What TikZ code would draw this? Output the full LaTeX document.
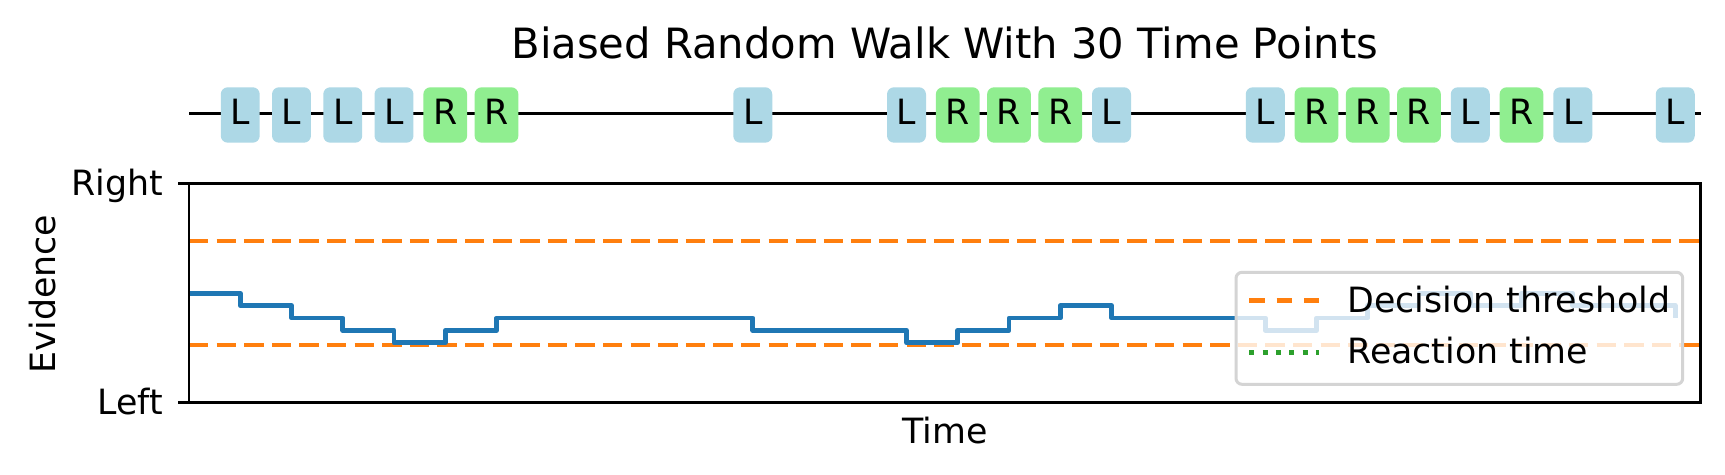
\documentclass[tikz,border=0pt]{standalone}
\usepackage{fontspec}
\setmainfont{DejaVu Sans}
\definecolor{walkblue}{RGB}{31,119,180}
\definecolor{threshorange}{RGB}{255,127,14}
\definecolor{rtgreen}{RGB}{44,160,44}
\definecolor{leftblue}{RGB}{173,216,230}
\definecolor{rightgreen}{RGB}{144,238,144}
\definecolor{legedge}{RGB}{212,212,212}
\begin{document}
\begin{tikzpicture}[x=0.5pt,y=-0.5pt,
    every node/.style={font=\fontsize{17.4}{20}\selectfont,inner sep=0pt},
    tok/.style={anchor=base,inner xsep=4.9pt,inner ysep=0pt,text height=18.85pt,text depth=8.85pt,rounded corners=3.5pt},
    ltok/.style={tok,fill=leftblue},
    rtok/.style={tok,fill=rightgreen},
    thresh/.style={threshorange,line width=2.3pt,dash pattern=on 9.7pt off 4.1pt},
    walk/.style={walkblue,line width=2.4pt,line join=round},
    spine/.style={black,line width=1.3pt}]
      \def\xs{189};
      \def\xw{51.25};
      \def\yz{293.3};
      \def\yd{12.35};
      \fill[white] (0,0) rectangle (1725,475);
      \useasboundingbox (0,0) rectangle (1725,475);
      % sequence of choices
      \coordinate (seqa) at (\xs,113.3);
      \coordinate (seqb) at (1700.7,113.3);
      \draw[line width=1.3pt] (seqa) -- (seqb);
      \node[ltok] (t1) at (\xs+1*\xw,125) {L};
      \node[ltok] (t2) at (\xs+2*\xw,125) {L};
      \node[ltok] (t3) at (\xs+3*\xw,125) {L};
      \node[ltok] (t4) at (\xs+4*\xw,125) {L};
      \node[rtok] (t5) at (\xs+5*\xw,125) {R};
      \node[rtok] (t6) at (\xs+6*\xw,125) {R};
      \node[ltok] (t11) at (\xs+11*\xw,125) {L};
      \node[ltok] (t14) at (\xs+14*\xw,125) {L};
      \node[rtok] (t15) at (\xs+15*\xw,125) {R};
      \node[rtok] (t16) at (\xs+16*\xw,125) {R};
      \node[rtok] (t17) at (\xs+17*\xw,125) {R};
      \node[ltok] (t18) at (\xs+18*\xw,125) {L};
      \node[ltok] (t21) at (\xs+21*\xw,125) {L};
      \node[rtok] (t22) at (\xs+22*\xw,125) {R};
      \node[rtok] (t23) at (\xs+23*\xw,125) {R};
      \node[rtok] (t24) at (\xs+24*\xw,125) {R};
      \node[ltok] (t25) at (\xs+25*\xw,125) {L};
      \node[rtok] (t26) at (\xs+26*\xw,125) {R};
      \node[ltok] (t27) at (\xs+27*\xw,125) {L};
      \node[ltok] (t29) at (\xs+29*\xw,125) {L};
      \node[anchor=base,font=\fontsize{20.85}{24}\selectfont] (title) at (944.8,58.3) {Biased Random Walk With 30 Time Points};
      % evidence plot
      \draw[thresh] (\xs,241) -- (1700.7,241);
      \draw[thresh] (\xs,345) -- (1700.7,345);
      \draw[walk] (\xs,\yz) -| (\xs+1*\xw,\yz+1*\yd) -| (\xs+2*\xw,\yz+2*\yd)
        -| (\xs+3*\xw,\yz+3*\yd) -| (\xs+4*\xw,\yz+4*\yd) -| (\xs+5*\xw,\yz+3*\yd)
        -| (\xs+6*\xw,\yz+2*\yd) -| (\xs+11*\xw,\yz+3*\yd) -| (\xs+14*\xw,\yz+4*\yd)
        -| (\xs+15*\xw,\yz+3*\yd) -| (\xs+16*\xw,\yz+2*\yd) -| (\xs+17*\xw,\yz+1*\yd)
        -| (\xs+18*\xw,\yz+2*\yd) -| (\xs+21*\xw,\yz+3*\yd) -| (\xs+22*\xw,\yz+2*\yd)
        -| (\xs+23*\xw,\yz+1*\yd) -| (\xs+24*\xw,\yz) -| (\xs+25*\xw,\yz+1*\yd)
        -| (\xs+26*\xw,\yz) -| (\xs+27*\xw,\yz+1*\yd) -| (\xs+29*\xw,\yz+2*\yd);
      % legend
      \draw[legedge,line width=1.5pt,fill=white,fill opacity=0.8,rounded corners=3pt] (1236,272.3) rectangle (1682.7,384.3);
      \draw[threshorange,line width=2.3pt,dash pattern=on 7.85pt off 5.85pt] (1249.3,300.5) -- (1319.3,300.5);
      \draw[rtgreen,line width=2.4pt,dash pattern=on 2.5pt off 4.15pt] (1249.3,352.5) -- (1319.3,352.5);
      \node[anchor=base west] (legthr) at (1347,312.5) {Decision threshold};
      \node[anchor=base west] (legrt) at (1347,363.5) {Reaction time};
      % axes
      \draw[spine] (\xs,183.3) rectangle (1700.7,402.3);
      \draw[spine] (178,183.3) -- (\xs,183.3);
      \draw[spine] (178,402.3) -- (\xs,402.3);
      \node[anchor=base east] (right) at (163.3,195.7) {Right};
      \node[anchor=base east] (left) at (163.3,414.7) {Left};
      \node[anchor=base,rotate=90] (ylab) at (55,294) {Evidence};
      \node[anchor=base] (xlab) at (944.8,443.3) {Time};
    \end{tikzpicture}
\end{document}
